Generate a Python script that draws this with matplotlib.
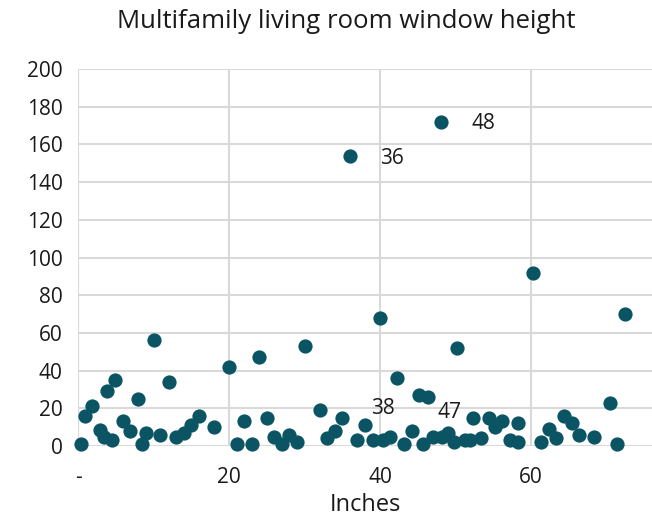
import matplotlib
matplotlib.use("Agg")
import matplotlib.pyplot as plt

plt.rcParams['font.family'] = ['Open Sans', 'DejaVu Sans']

x_inches = [0.4, 0.9, 1.9, 2.9, 3.5, 4.5, 3.9, 4.9, 5.9, 6.9, 7.9, 8.5, 9, 10, 10.9, 12, 13, 14, 15, 16,
            18, 20, 21, 22, 23, 24, 25, 26, 27, 28, 29, 30, 32, 33, 34, 35, 36, 37, 38, 39,
            40, 40.4, 41.3, 42.2, 43.2, 44.2, 45.2, 46.3, 45.7, 47, 48, 48.2, 49, 49.8, 50.2, 51.3, 51.9, 52.3, 53.3, 54.4,
            55.2, 56.2, 57.2, 58.2, 58.2, 60.3, 61.3, 62.3, 63.3, 64.4, 65.4, 66.3, 68.3, 70.4, 71.3, 72.4]
y_count = [1, 16, 21, 8.5, 5, 3, 29, 35, 13, 8, 25, 1, 7, 56, 6, 34, 5, 7, 11, 16,
           10, 42, 1, 13, 1, 47, 15, 5, 1, 6, 2, 53, 19, 4, 8, 15, 154, 3, 11, 3,
           68, 3, 5, 36, 1, 8, 27, 26, 1, 5, 172, 5, 7, 2, 52, 3, 3, 15, 4, 15,
           10, 13, 3, 2, 12, 92, 2, 9, 4, 16, 12, 6, 5, 23, 1, 70]

label_x = [36, 48, 38, 47]
label_y = [154, 172, 11, 5]
label_text = ["36", "48", "38", "47"]
label_off = [(30, -2), (31, -1), (13, 12), (12, 17)]

x_ticks = [0, 20, 40, 60]
x_ticklabels = ["-", "20", "40", "60"]
y_ticks = list(range(0, 201, 20))

color = "#0A5463"
text_color = "#1a1a1a"

fig = plt.figure(figsize=(6.52, 5.29), dpi=100)
ax = fig.add_axes([78/652, 83/529, 1 - 78/652, (446 - 69)/529])
ax.scatter(x_inches, y_count, s=105, color=color, zorder=3, linewidths=0, clip_on=False)

for lx, ly, t, off in zip(label_x, label_y, label_text, label_off):
    ax.annotate(t, (lx, ly), xytext=off, textcoords="offset points",
                ha="center", va="center", fontsize=15, color=text_color, zorder=4)

ax.set_xlim(0, 76)
ax.set_ylim(0, 200)
ax.set_xticks(x_ticks)
ax.set_xticklabels(x_ticklabels)
ax.set_yticks(y_ticks)
ax.tick_params(length=0, labelsize=15, labelcolor=text_color)
ax.tick_params(axis='y', pad=11)
ax.tick_params(axis='x', pad=15)
ax.grid(True, color="#D9D9D9", linewidth=1.5, zorder=0)
ax.set_axisbelow(True)
for s in ax.spines.values():
    s.set_visible(False)
ax.set_xlabel("Inches", fontsize=17, color=text_color, labelpad=4)
fig.text(346/652, 1 - 21/529, "Multifamily living room window height", ha="center", va="center",
         fontsize=18.5, color=text_color)

fig.savefig("out.png", dpi=100)
